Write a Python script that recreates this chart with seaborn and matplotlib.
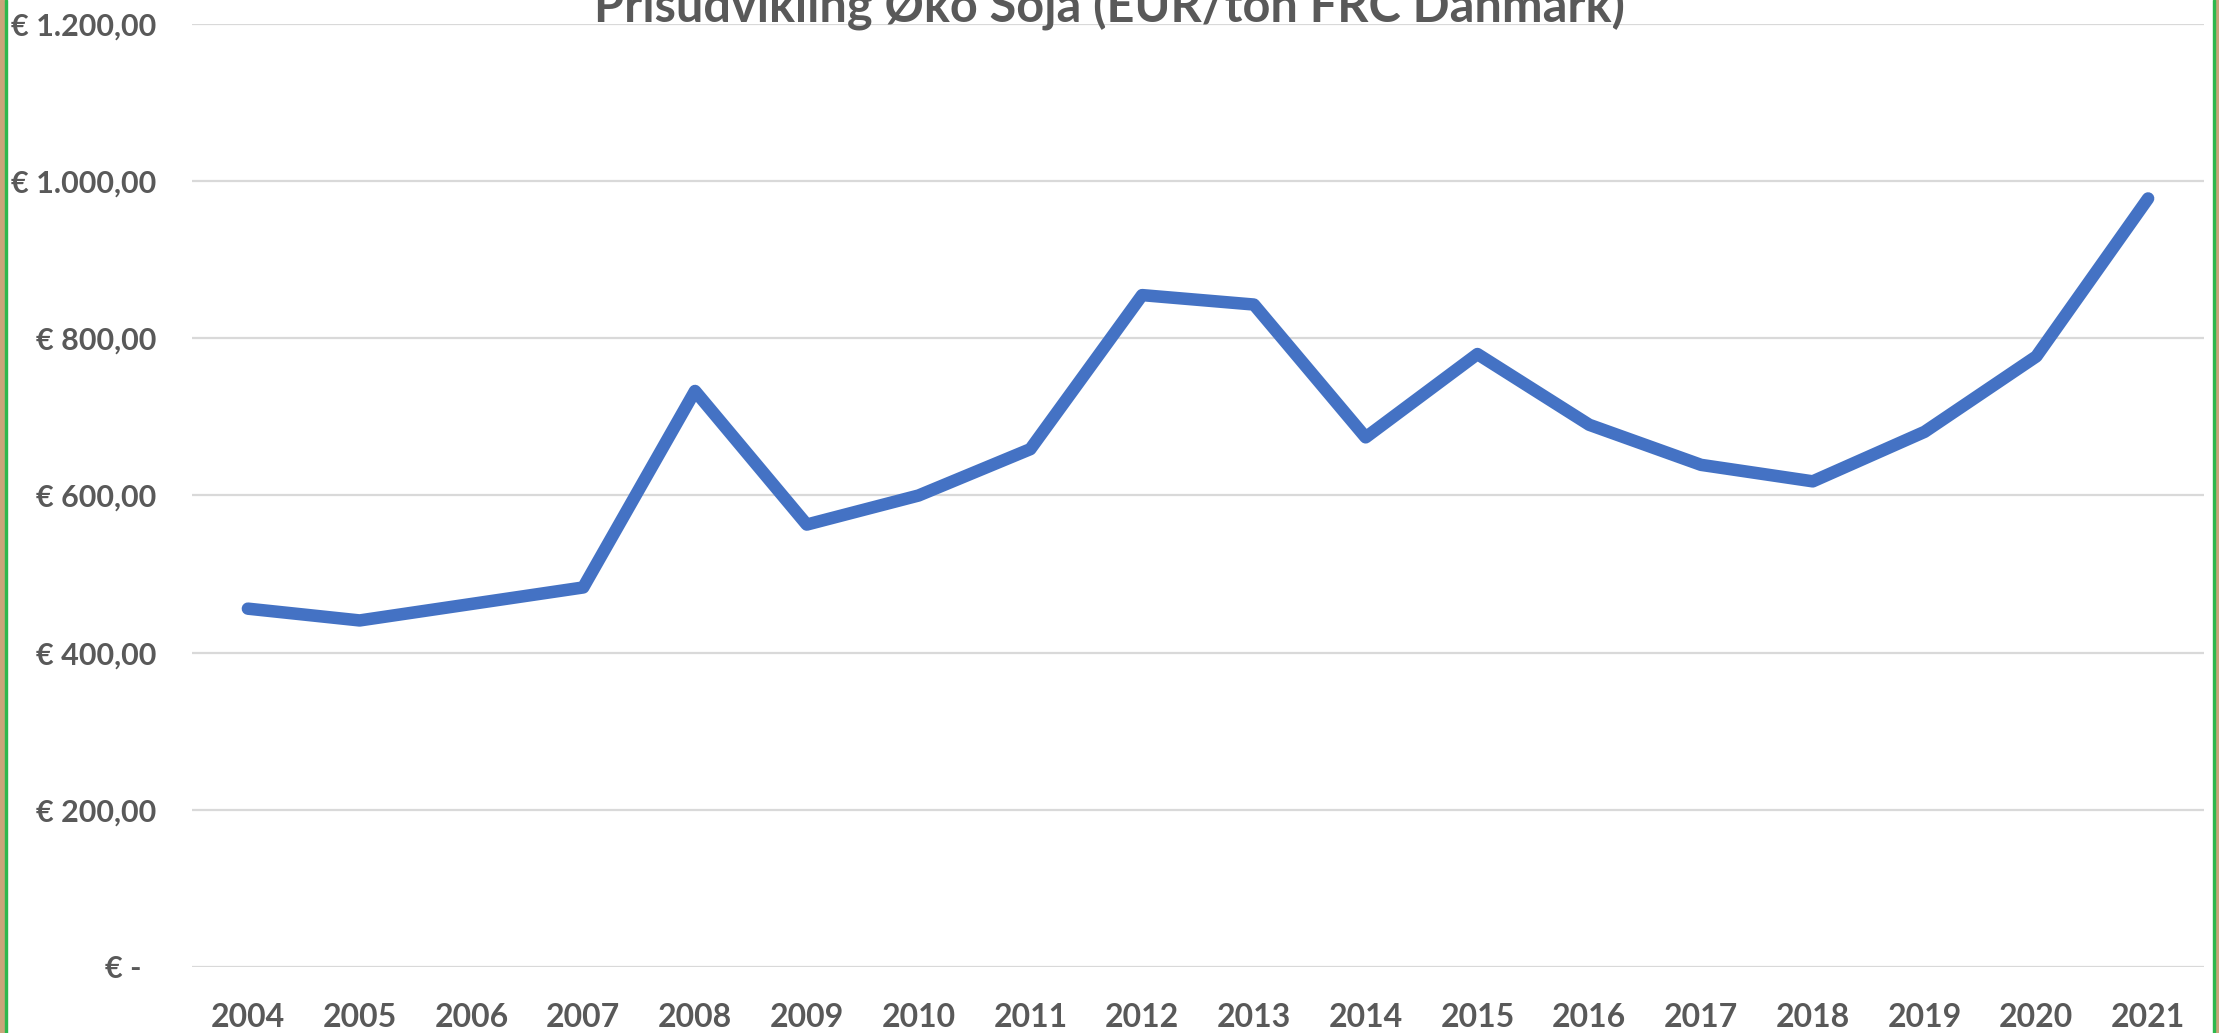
import numpy as np
import pandas as pd
import seaborn as sns
import matplotlib.pyplot as plt
from matplotlib.patches import Rectangle

# Data
years = [2004, 2005, 2006, 2007, 2008, 2009, 2010, 2011, 2012,
         2013, 2014, 2015, 2016, 2017, 2018, 2019, 2020, 2021]
prices = [456, 441, 462, 483, 733, 563, 600, 659, 855,
          843, 674, 780, 690, 639, 618, 681, 777, 978]
y_ticks = [0, 200, 400, 600, 800, 1000, 1200]
y_tick_labels = ["€ -  ", "€ 200,00", "€ 400,00", "€ 600,00",
                 "€ 800,00", "€ 1.000,00", "€ 1.200,00"]
title = "Prisudvikling Øko Soja (EUR/ton FRC Danmark)"

df = pd.DataFrame({"year": years, "price": prices})

sns.set_theme(style="white")
plt.rcParams["font.family"] = ["Lato", "DejaVu Sans"]

text_color = "#595959"

fig = plt.figure(figsize=(22.19, 10.33), dpi=100)
ax = fig.add_axes([192 / 2219, 1 - 967 / 1033, (2204 - 192) / 2219, (967 - 24) / 1033])

sns.lineplot(data=df, x="year", y="price", color="#4472C4", linewidth=9,
             solid_capstyle="round", solid_joinstyle="round", ax=ax, zorder=3)

ax.set_xlim(years[0] - 0.5, years[-1] + 0.5)
ax.set_ylim(0, 1200)
ax.set_xticks(years)
ax.set_xticklabels([str(y) for y in years])
ax.set_yticks(y_ticks)
ax.set_yticklabels(y_tick_labels)
ax.set_xlabel("")
ax.set_ylabel("")

ax.yaxis.grid(True, color="#D9D9D9", linewidth=1.6)
ax.xaxis.grid(False)
for s in ax.spines.values():
    s.set_visible(False)

ax.tick_params(axis="x", length=0, pad=26, labelsize=23, labelcolor=text_color)
ax.tick_params(axis="y", length=0, pad=26, labelsize=22, labelcolor=text_color)
for lab in ax.get_xticklabels() + ax.get_yticklabels():
    lab.set_fontweight("bold")

# title, cut off at the top like the screenshot
fig.text(0.5, 1 - 22 / 1033, title, ha="center", va="baseline",
         fontsize=35, fontweight="bold", color=text_color)

# frame edges from the screenshot
fig.add_artist(Rectangle((0, 0), 5 / 2219, 1, transform=fig.transFigure,
                         color="#C9A57A", zorder=0))
fig.add_artist(Rectangle((2215 / 2219, 0), 4 / 2219, 1, transform=fig.transFigure,
                         color="#C9A57A", zorder=0))
fig.add_artist(Rectangle((5 / 2219, 0), 2 / 2219, 1, transform=fig.transFigure,
                         color="#2DB84D", zorder=1))
fig.add_artist(Rectangle((2213 / 2219, 0), 2 / 2219, 1, transform=fig.transFigure,
                         color="#2DB84D", zorder=1))

fig.savefig("out.png", dpi=100)
